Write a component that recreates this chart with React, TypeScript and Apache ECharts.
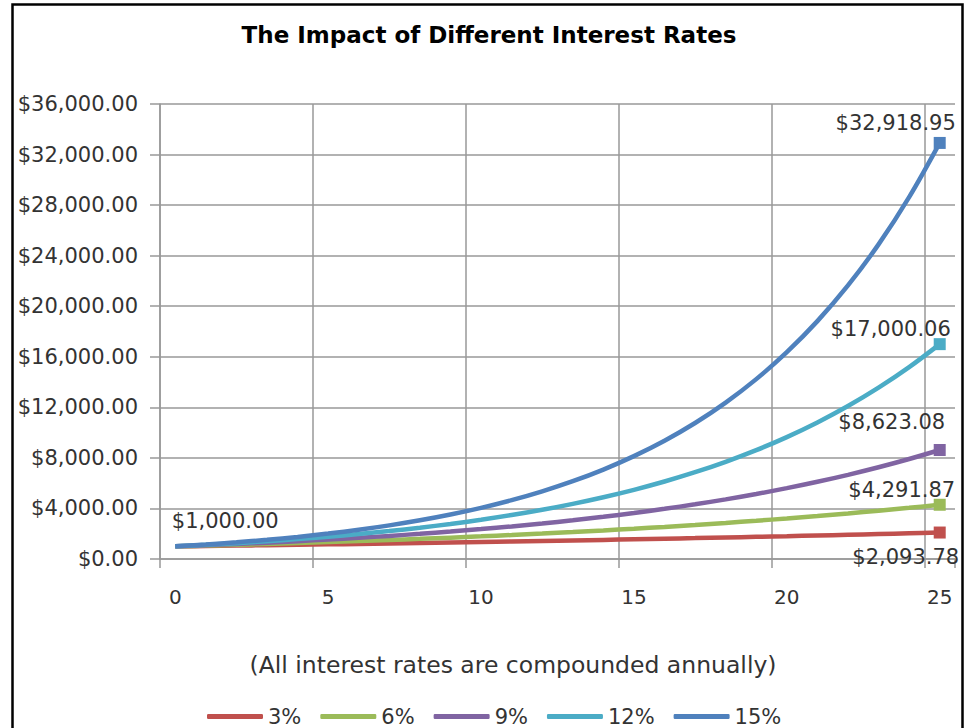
import React, { useEffect, useRef } from "react";
import * as echarts from "echarts";

const years = ["0","1","2","3","4","5","6","7","8","9","10","11","12","13","14","15","16","17","18","19","20","21","22","23","24","25"];
const seriesNames = ["3%", "6%", "9%", "12%", "15%"];
const seriesColors = ["#C0504D", "#9BBB59", "#8064A2", "#4BACC6", "#4F81BD"];

const rate3 = [1000, 1030, 1060.9, 1092.73, 1125.51, 1159.27, 1194.05, 1229.87, 1266.77, 1304.77, 1343.92, 1384.23, 1425.76, 1468.53, 1512.59, 1557.97, 1604.71, 1652.85, 1702.43, 1753.51, 1806.11, 1860.29, 1916.1, 1973.59, 2032.79, 2093.78];
const rate6 = [1000, 1060, 1123.6, 1191.02, 1262.48, 1338.23, 1418.52, 1503.63, 1593.85, 1689.48, 1790.85, 1898.3, 2012.2, 2132.93, 2260.9, 2396.56, 2540.35, 2692.77, 2854.34, 3025.6, 3207.14, 3399.56, 3603.54, 3819.75, 4048.93, 4291.87];
const rate9 = [1000, 1090, 1188.1, 1295.03, 1411.58, 1538.62, 1677.1, 1828.04, 1992.56, 2171.89, 2367.36, 2580.43, 2812.66, 3065.8, 3341.73, 3642.48, 3970.31, 4327.63, 4717.12, 5141.66, 5604.41, 6108.81, 6658.6, 7257.87, 7911.08, 8623.08];
const rate12 = [1000, 1120, 1254.4, 1404.93, 1573.52, 1762.34, 1973.82, 2210.68, 2475.96, 2773.08, 3105.85, 3478.55, 3895.98, 4363.49, 4887.11, 5473.57, 6130.39, 6866.04, 7689.97, 8612.76, 9646.29, 10803.85, 12100.31, 13552.35, 15178.63, 17000.06];
const rate15 = [1000, 1150, 1322.5, 1520.88, 1749.01, 2011.36, 2313.06, 2660.02, 3059.02, 3517.88, 4045.56, 4652.39, 5350.25, 6152.79, 7075.71, 8137.06, 9357.62, 10761.26, 12375.45, 14231.77, 16366.54, 18821.52, 21644.75, 24891.46, 28625.18, 32918.95];

const allSeries = [rate3, rate6, rate9, rate12, rate15];

const titleText = "The Impact of Different Interest Rates";
const axisNameText = "(All interest rates are compounded annually)";

const FONT = "DejaVu Sans";

const money = (v: number) =>
  "$" + Number(v).toLocaleString("en-US", { minimumFractionDigits: 2, maximumFractionDigits: 2 });

// label placement for last point of each series: [position, dx, dy]
const endLabelPlace: [string, number, number][] = [
  ["bottom", -34, 3],
  ["top", -38, 7],
  ["top", -48, -7],
  ["top", -49, 6],
  ["top", -44, 2],
];

export default function App() {
  const ref = useRef<HTMLDivElement>(null);
  useEffect(() => {
    if (!ref.current) return;
    const chart = echarts.init(ref.current, null, { renderer: "svg" });
    const labelStyle = { fontFamily: FONT, fontSize: 21, color: "#333" };
    const series = allSeries.map((vals, si) => {
      const data = vals.map((v, i) => {
        if (i === vals.length - 1) {
          const [pos, dx, dy] = endLabelPlace[si];
          return {
            value: v,
            symbol: "rect",
            symbolSize: 12,
            label: { show: true, position: pos, offset: [dx, dy], formatter: (p: any) => money(p.value), ...labelStyle },
          };
        }
        if (i === 0 && si === allSeries.length - 1) {
          return {
            value: v,
            symbol: "circle",
            symbolSize: 0,
            label: { show: true, position: "top", offset: [50, -10], formatter: (p: any) => money(p.value), ...labelStyle },
          };
        }
        return { value: v, symbol: "none" };
      });
      return {
        name: seriesNames[si],
        type: "line",
        data,
        smooth: 0.35,
        showSymbol: true,
        symbol: "none",
        lineStyle: { width: 4.5, color: seriesColors[si] },
        itemStyle: { color: seriesColors[si] },
        emphasis: { disabled: true },
      };
    });
    chart.setOption({
      animation: false,
      backgroundColor: "#ffffff",
      color: seriesColors,
      grid: { left: 160, top: 104, width: 795, height: 455, containLabel: false },
      legend: {
        data: seriesNames,
        left: 202,
        top: 701,
        icon: "roundRect",
        itemWidth: 56,
        itemHeight: 5,
        itemGap: 19,
        textStyle: { fontFamily: FONT, fontSize: 21, color: "#333" },
      },
      xAxis: {
        type: "category",
        data: years,
        boundaryGap: true,
        axisLine: { lineStyle: { color: "#999", width: 1.5 } },
        axisTick: { show: true, interval: 4, length: 9, lineStyle: { color: "#999", width: 1.5 } },
        axisLabel: { interval: 4, margin: 28, fontFamily: FONT, fontSize: 20, color: "#333" },
        splitLine: { show: true, interval: 4, showMaxLine: false, lineStyle: { color: "#999", width: 1.5 } },
      },
      yAxis: {
        type: "value",
        min: 0,
        max: 36000,
        interval: 4000,
        axisLine: { show: true, lineStyle: { color: "#999", width: 1.5 } },
        axisTick: { show: true, length: 10, lineStyle: { color: "#999", width: 1.5 } },
        axisLabel: { margin: 22, fontFamily: FONT, fontSize: 21, color: "#333", formatter: (v: number) => money(v) },
        splitLine: { show: true, lineStyle: { color: "#999", width: 1.5 } },
      },
      graphic: [
        {
          type: "rect",
          shape: { x: 12.5, y: 4.5, width: 950, height: 800 },
          style: { fill: "none", stroke: "#000", lineWidth: 2.5 },
          silent: true,
        },
        {
          type: "text",
          x: 489,
          y: 35,
          style: { text: titleText, fontFamily: FONT, fontSize: 23, fontWeight: "bold", fill: "#000", textAlign: "center", textVerticalAlign: "middle" },
          silent: true,
        },
        {
          type: "text",
          x: 513,
          y: 665,
          style: { text: axisNameText, fontFamily: FONT, fontSize: 23.5, fill: "#333", textAlign: "center", textVerticalAlign: "middle" },
          silent: true,
        },
      ],
      series,
    });
    return () => chart.dispose();
  }, []);
  return (
    <div
      ref={ref}
      style={{ position: "fixed", left: 0, top: 0, width: 967, height: 728, background: "#fff" }}
    />
  );
}
